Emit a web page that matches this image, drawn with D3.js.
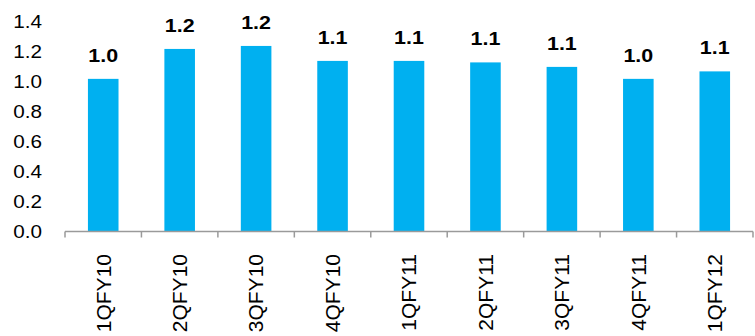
<!DOCTYPE html>
<html><head><meta charset="utf-8">
<script src="https://cdn.jsdelivr.net/npm/d3@7"></script>
<style>body{margin:0;background:#fff}svg{display:block}text{font-family:Arial,"Liberation Sans",sans-serif}</style>
</head><body><svg id="c" width="755" height="336"></svg>
<script>
const categories = ["1QFY10","2QFY10","3QFY10","4QFY10","1QFY11","2QFY11","3QFY11","4QFY11","1QFY12"];
const values = [1.02, 1.22, 1.24, 1.14, 1.14, 1.13, 1.10, 1.02, 1.07];
const yTicks = [0, 0.2, 0.4, 0.6, 0.8, 1.0, 1.2, 1.4];

const svg = d3.select("#c");
const x = d3.scaleBand().domain(categories).range([65, 753]).paddingInner(0.6).paddingOuter(0.3);
const y = d3.scaleLinear().domain([0, 1.4]).range([231.5, 22]);

// bars
svg.append("g").selectAll("rect").data(values).join("rect")
  .attr("x", (d,i) => x(categories[i]))
  .attr("width", x.bandwidth())
  .attr("y", d => y(d))
  .attr("height", d => y(0) - y(d))
  .attr("fill", "#00B0F0");

// value labels
svg.append("g").selectAll("text").data(values).join("text")
  .attr("transform", (d,i) => `translate(${x(categories[i]) + x.bandwidth()/2},${y(d) - 17}) scale(1.13,1)`)
  .attr("text-anchor", "middle")
  .attr("font-size", 19).attr("font-weight", "bold").attr("fill", "#000")
  .text(d => d.toFixed(1));

// y axis labels
svg.append("g").selectAll("text").data(yTicks).join("text")
  .attr("transform", d => `translate(42,${y(d)}) scale(1.15,1)`)
  .attr("dy", "0.35em")
  .attr("text-anchor", "end").attr("font-size", 18).attr("fill", "#000")
  .text(d => d.toFixed(1));

// x axis with ticks at category boundaries
const xa = svg.append("g");
xa.append("line").attr("x1", 65).attr("x2", 753).attr("y1", y(0)).attr("y2", y(0))
  .attr("stroke", "#9a9a9a").attr("stroke-width", 1.5);
const edge = (x.step() - x.bandwidth()) / 2;
const bounds = categories.map(c => x(c) - edge).concat([x(categories[categories.length-1]) + x.bandwidth() + edge]);
xa.selectAll("line.t").data(bounds).join("line").attr("class","t")
  .attr("x1", d => d).attr("x2", d => d)
  .attr("y1", y(0)).attr("y2", y(0) + 6)
  .attr("stroke", "#9a9a9a").attr("stroke-width", 1.5);

// category labels
svg.append("g").selectAll("text").data(categories).join("text")
  .attr("transform", d => `translate(${x(d) + x.bandwidth()/2},254) rotate(-90)`)
  .attr("dy", "0.35em").attr("text-anchor", "end")
  .attr("font-size", 21).attr("fill", "#000")
  .text(d => d);
</script></body></html>
